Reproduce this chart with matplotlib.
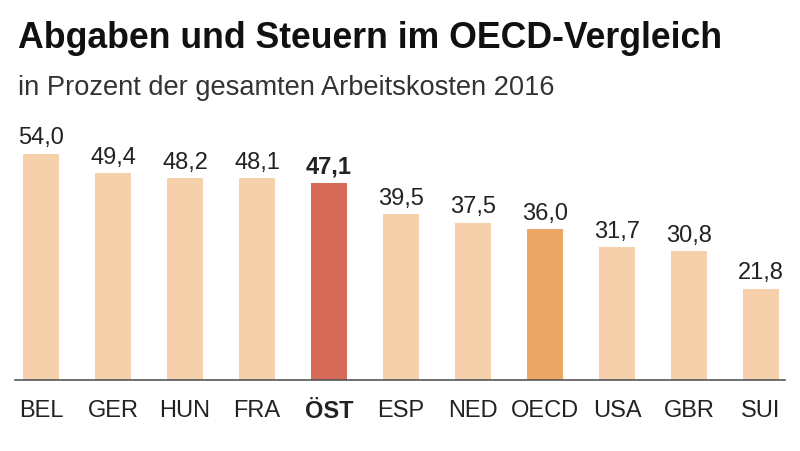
import matplotlib
matplotlib.use("Agg")
import matplotlib.pyplot as plt

countries = ["BEL", "GER", "HUN", "FRA", "ÖST", "ESP", "NED", "OECD", "USA", "GBR", "SUI"]
values = [54.0, 49.4, 48.2, 48.1, 47.1, 39.5, 37.5, 36.0, 31.7, 30.8, 21.8]

font = "Liberation Sans"
light = "#f6d0aa"
colors = [light] * len(countries)
colors[4] = "#d66a58"   # Österreich
colors[7] = "#eba565"   # OECD-Schnitt

fig = plt.figure(figsize=(8, 4.52), dpi=100)
ax = fig.add_axes([15 / 800, 1 - 381 / 452, 770 / 800, 261 / 452])

x = list(range(len(countries)))
ax.bar(x, values, width=0.51, color=colors)
for i, v in enumerate(values):
    bold = countries[i] == "ÖST"
    ax.text(i, v + 1.3, f"{v:.1f}".replace(".", ","), ha="center", va="bottom",
            fontsize=17, family=font, fontweight="bold" if bold else "normal",
            color="#222222")

ax.set_xlim(-26 / 72, 10 + 24 / 72)
ax.set_ylim(0, 261 / 4.19)
ax.set_xticks(x)
ax.set_xticklabels(countries, fontsize=17, family=font, color="#222222")
ax.get_xticklabels()[4].set_fontweight("bold")
ax.tick_params(axis="x", length=0, pad=14)
ax.set_yticks([])
for s in ["top", "right", "left"]:
    ax.spines[s].set_visible(False)
ax.spines["bottom"].set_color("#555555")
ax.spines["bottom"].set_linewidth(1.2)

fig.text(18 / 800, 1 - 39 / 452, "Abgaben und Steuern im OECD-Vergleich", fontsize=25.7,
         fontweight="bold", family=font, va="center", color="#111111")
fig.text(18 / 800, 1 - 88 / 452, "in Prozent der gesamten Arbeitskosten 2016", fontsize=19.6,
         family=font, va="center", color="#333333")

fig.savefig("out.png", dpi=100)
